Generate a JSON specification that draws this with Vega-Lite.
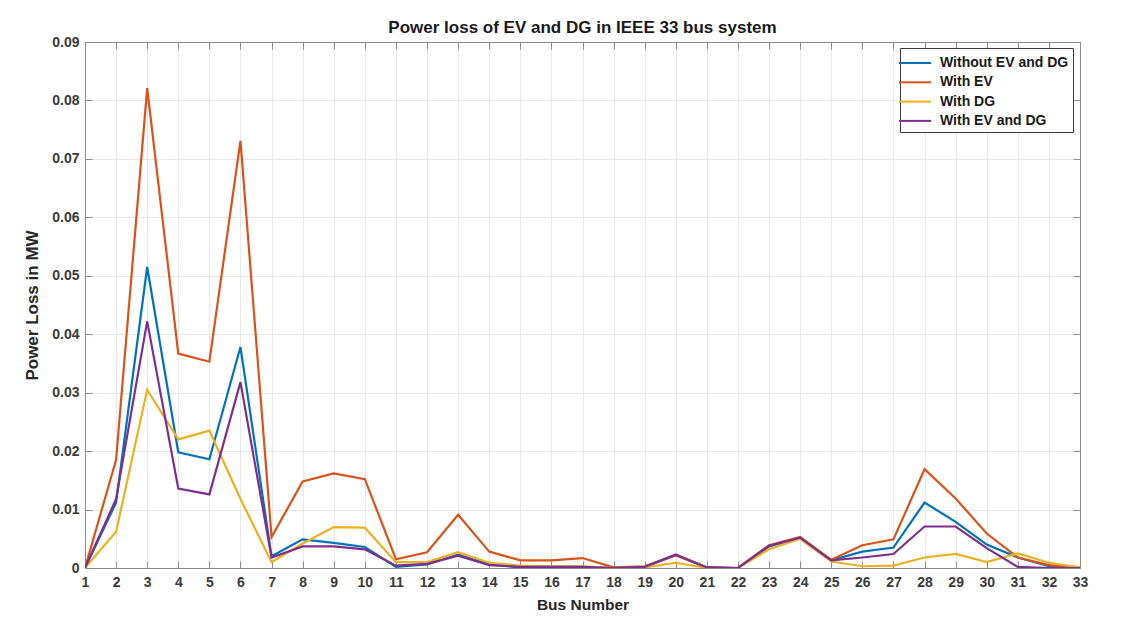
{
  "$schema": "https://vega.github.io/schema/vega-lite/v6.json",
  "autosize": {"type": "none"},
  "width": 995,
  "height": 526,
  "padding": {"left": 85, "top": 42, "right": 50, "bottom": 57},
  "background": "white",
  "title": {
    "text": "Power loss of EV and DG in IEEE 33 bus system",
    "font": "Liberation Sans",
    "fontSize": 17,
    "fontWeight": "bold",
    "color": "#1a1a1a",
    "anchor": "middle",
    "offset": -2
  },
  "config": {
    "view": {"stroke": "#8c8c8c", "strokeWidth": 1},
    "axis": {
      "labelFont": "Liberation Sans",
      "labelFontWeight": "bold",
      "labelFontSize": 14,
      "labelColor": "#3a3a3a",
      "titleFont": "Liberation Sans",
      "titleFontWeight": "bold",
      "titleColor": "#262626",
      "domainColor": "#8c8c8c",
      "tickColor": "#8c8c8c",
      "gridColor": "#e8e8e8",
      "gridWidth": 1
    }
  },
  "data": {
    "values": [
      {"bus": 1, "case": "Without EV and DG", "loss": 0},
      {"bus": 2, "case": "Without EV and DG", "loss": 0.0112},
      {"bus": 3, "case": "Without EV and DG", "loss": 0.0515},
      {"bus": 4, "case": "Without EV and DG", "loss": 0.0198},
      {"bus": 5, "case": "Without EV and DG", "loss": 0.0186},
      {"bus": 6, "case": "Without EV and DG", "loss": 0.0378},
      {"bus": 7, "case": "Without EV and DG", "loss": 0.002},
      {"bus": 8, "case": "Without EV and DG", "loss": 0.0049},
      {"bus": 9, "case": "Without EV and DG", "loss": 0.0043},
      {"bus": 10, "case": "Without EV and DG", "loss": 0.0036},
      {"bus": 11, "case": "Without EV and DG", "loss": 0.0002},
      {"bus": 12, "case": "Without EV and DG", "loss": 0.0006},
      {"bus": 13, "case": "Without EV and DG", "loss": 0.0023},
      {"bus": 14, "case": "Without EV and DG", "loss": 0.0006},
      {"bus": 15, "case": "Without EV and DG", "loss": 0.0001},
      {"bus": 16, "case": "Without EV and DG", "loss": 0.0002},
      {"bus": 17, "case": "Without EV and DG", "loss": 0.0002},
      {"bus": 18, "case": "Without EV and DG", "loss": 0},
      {"bus": 19, "case": "Without EV and DG", "loss": 0.0002},
      {"bus": 20, "case": "Without EV and DG", "loss": 0.0022},
      {"bus": 21, "case": "Without EV and DG", "loss": 0.0001},
      {"bus": 22, "case": "Without EV and DG", "loss": 0},
      {"bus": 23, "case": "Without EV and DG", "loss": 0.0037},
      {"bus": 24, "case": "Without EV and DG", "loss": 0.0052},
      {"bus": 25, "case": "Without EV and DG", "loss": 0.0013},
      {"bus": 26, "case": "Without EV and DG", "loss": 0.0028},
      {"bus": 27, "case": "Without EV and DG", "loss": 0.0035},
      {"bus": 28, "case": "Without EV and DG", "loss": 0.0112},
      {"bus": 29, "case": "Without EV and DG", "loss": 0.0079},
      {"bus": 30, "case": "Without EV and DG", "loss": 0.004},
      {"bus": 31, "case": "Without EV and DG", "loss": 0.0018},
      {"bus": 32, "case": "Without EV and DG", "loss": 0.0003},
      {"bus": 33, "case": "Without EV and DG", "loss": 0.0001},

      {"bus": 1, "case": "With EV", "loss": 0},
      {"bus": 2, "case": "With EV", "loss": 0.0185},
      {"bus": 3, "case": "With EV", "loss": 0.0821},
      {"bus": 4, "case": "With EV", "loss": 0.0367},
      {"bus": 5, "case": "With EV", "loss": 0.0353},
      {"bus": 6, "case": "With EV", "loss": 0.0731},
      {"bus": 7, "case": "With EV", "loss": 0.0053},
      {"bus": 8, "case": "With EV", "loss": 0.0148},
      {"bus": 9, "case": "With EV", "loss": 0.0162},
      {"bus": 10, "case": "With EV", "loss": 0.0152},
      {"bus": 11, "case": "With EV", "loss": 0.0015},
      {"bus": 12, "case": "With EV", "loss": 0.0027},
      {"bus": 13, "case": "With EV", "loss": 0.0091},
      {"bus": 14, "case": "With EV", "loss": 0.0028},
      {"bus": 15, "case": "With EV", "loss": 0.0013},
      {"bus": 16, "case": "With EV", "loss": 0.0013},
      {"bus": 17, "case": "With EV", "loss": 0.0017},
      {"bus": 18, "case": "With EV", "loss": 0.0001},
      {"bus": 19, "case": "With EV", "loss": 0.0003},
      {"bus": 20, "case": "With EV", "loss": 0.0022},
      {"bus": 21, "case": "With EV", "loss": 0.0001},
      {"bus": 22, "case": "With EV", "loss": 0},
      {"bus": 23, "case": "With EV", "loss": 0.0039},
      {"bus": 24, "case": "With EV", "loss": 0.0053},
      {"bus": 25, "case": "With EV", "loss": 0.0014},
      {"bus": 26, "case": "With EV", "loss": 0.0039},
      {"bus": 27, "case": "With EV", "loss": 0.0049},
      {"bus": 28, "case": "With EV", "loss": 0.0169},
      {"bus": 29, "case": "With EV", "loss": 0.0119},
      {"bus": 30, "case": "With EV", "loss": 0.0059},
      {"bus": 31, "case": "With EV", "loss": 0.0018},
      {"bus": 32, "case": "With EV", "loss": 0.0005},
      {"bus": 33, "case": "With EV", "loss": 0.0001},

      {"bus": 1, "case": "With DG", "loss": 0},
      {"bus": 2, "case": "With DG", "loss": 0.0062},
      {"bus": 3, "case": "With DG", "loss": 0.0305},
      {"bus": 4, "case": "With DG", "loss": 0.022},
      {"bus": 5, "case": "With DG", "loss": 0.0235},
      {"bus": 6, "case": "With DG", "loss": 0.0118},
      {"bus": 7, "case": "With DG", "loss": 0.001},
      {"bus": 8, "case": "With DG", "loss": 0.0042},
      {"bus": 9, "case": "With DG", "loss": 0.007},
      {"bus": 10, "case": "With DG", "loss": 0.0069},
      {"bus": 11, "case": "With DG", "loss": 0.001},
      {"bus": 12, "case": "With DG", "loss": 0.001},
      {"bus": 13, "case": "With DG", "loss": 0.0027},
      {"bus": 14, "case": "With DG", "loss": 0.0009},
      {"bus": 15, "case": "With DG", "loss": 0.0004},
      {"bus": 16, "case": "With DG", "loss": 0.0003},
      {"bus": 17, "case": "With DG", "loss": 0.0003},
      {"bus": 18, "case": "With DG", "loss": 0},
      {"bus": 19, "case": "With DG", "loss": 0.0001},
      {"bus": 20, "case": "With DG", "loss": 0.0009},
      {"bus": 21, "case": "With DG", "loss": 0},
      {"bus": 22, "case": "With DG", "loss": 0},
      {"bus": 23, "case": "With DG", "loss": 0.0032},
      {"bus": 24, "case": "With DG", "loss": 0.005},
      {"bus": 25, "case": "With DG", "loss": 0.0011},
      {"bus": 26, "case": "With DG", "loss": 0.0003},
      {"bus": 27, "case": "With DG", "loss": 0.0004},
      {"bus": 28, "case": "With DG", "loss": 0.0018},
      {"bus": 29, "case": "With DG", "loss": 0.0024},
      {"bus": 30, "case": "With DG", "loss": 0.001},
      {"bus": 31, "case": "With DG", "loss": 0.0025},
      {"bus": 32, "case": "With DG", "loss": 0.0009},
      {"bus": 33, "case": "With DG", "loss": 0.0001},

      {"bus": 1, "case": "With EV and DG", "loss": 0},
      {"bus": 2, "case": "With EV and DG", "loss": 0.0118},
      {"bus": 3, "case": "With EV and DG", "loss": 0.0422},
      {"bus": 4, "case": "With EV and DG", "loss": 0.0136},
      {"bus": 5, "case": "With EV and DG", "loss": 0.0126},
      {"bus": 6, "case": "With EV and DG", "loss": 0.0318},
      {"bus": 7, "case": "With EV and DG", "loss": 0.0018},
      {"bus": 8, "case": "With EV and DG", "loss": 0.0037},
      {"bus": 9, "case": "With EV and DG", "loss": 0.0037},
      {"bus": 10, "case": "With EV and DG", "loss": 0.0032},
      {"bus": 11, "case": "With EV and DG", "loss": 0.0004},
      {"bus": 12, "case": "With EV and DG", "loss": 0.0007},
      {"bus": 13, "case": "With EV and DG", "loss": 0.0021},
      {"bus": 14, "case": "With EV and DG", "loss": 0.0005},
      {"bus": 15, "case": "With EV and DG", "loss": 0.0002},
      {"bus": 16, "case": "With EV and DG", "loss": 0.0002},
      {"bus": 17, "case": "With EV and DG", "loss": 0.0002},
      {"bus": 18, "case": "With EV and DG", "loss": 0},
      {"bus": 19, "case": "With EV and DG", "loss": 0.0002},
      {"bus": 20, "case": "With EV and DG", "loss": 0.0023},
      {"bus": 21, "case": "With EV and DG", "loss": 0.0001},
      {"bus": 22, "case": "With EV and DG", "loss": 0},
      {"bus": 23, "case": "With EV and DG", "loss": 0.0038},
      {"bus": 24, "case": "With EV and DG", "loss": 0.0052},
      {"bus": 25, "case": "With EV and DG", "loss": 0.0013},
      {"bus": 26, "case": "With EV and DG", "loss": 0.0018},
      {"bus": 27, "case": "With EV and DG", "loss": 0.0024},
      {"bus": 28, "case": "With EV and DG", "loss": 0.0071},
      {"bus": 29, "case": "With EV and DG", "loss": 0.0071},
      {"bus": 30, "case": "With EV and DG", "loss": 0.0034},
      {"bus": 31, "case": "With EV and DG", "loss": 0.0002},
      {"bus": 32, "case": "With EV and DG", "loss": 0},
      {"bus": 33, "case": "With EV and DG", "loss": 0}
    ]
  },
  "layer": [
    {
      "mark": {"type": "line", "strokeWidth": 2.2, "clip": true},
      "encoding": {
        "x": {
          "field": "bus",
          "type": "quantitative",
          "scale": {"domain": [1, 33], "nice": false, "zero": false},
          "axis": {
            "title": "Bus Number",
            "titleFontSize": 15.5,
            "values": [1,2,3,4,5,6,7,8,9,10,11,12,13,14,15,16,17,18,19,20,21,22,23,24,25,26,27,28,29,30,31,32,33],
            "format": "d",
            "tickSize": -7,
            "labelPadding": 14,
            "titlePadding": 8,
            "grid": true,
            "labelOverlap": false,
            "labelFlush": false
          }
        },
        "y": {
          "field": "loss",
          "type": "quantitative",
          "scale": {"domain": [0, 0.09], "nice": false},
          "axis": {
            "title": "Power Loss in MW",
            "titleFontSize": 17,
            "values": [0, 0.01, 0.02, 0.03, 0.04, 0.05, 0.06, 0.07, 0.08, 0.09],
            "format": ".2~f",
            "tickSize": -7,
            "labelPadding": 13,
            "titlePadding": 10,
            "grid": true,
            "labelFlush": false
          }
        },
        "color": {
          "field": "case",
          "type": "nominal",
          "sort": null,
          "scale": {
            "domain": ["Without EV and DG", "With EV", "With DG", "With EV and DG"],
            "range": ["#0072BD", "#D95319", "#EDB120", "#7E2F8E"]
          },
          "legend": {
            "title": null,
            "orient": "none",
            "legendX": 815,
            "legendY": 6,
            "symbolType": "M-1.6,0H1.6",
            "symbolSize": 400,
            "symbolStrokeWidth": 2,
            "labelOffset": 14,
            "labelFont": "Liberation Sans",
            "labelFontWeight": "bold",
            "labelFontSize": 14,
            "labelColor": "#1a1a1a",
            "rowPadding": 1.3,
            "padding": 4,
            "strokeColor": "#3a3a3a",
            "fillColor": "white"
          }
        }
      }
    },
    {
      "mark": {"type": "line", "opacity": 0},
      "encoding": {
        "x": {
          "field": "bus",
          "type": "quantitative",
          "axis": {
            "orient": "top",
            "title": null,
            "values": [1,2,3,4,5,6,7,8,9,10,11,12,13,14,15,16,17,18,19,20,21,22,23,24,25,26,27,28,29,30,31,32,33],
            "labels": false,
            "tickSize": -7,
            "grid": false
          }
        },
        "y": {
          "field": "loss",
          "type": "quantitative",
          "axis": {
            "orient": "right",
            "title": null,
            "values": [0, 0.01, 0.02, 0.03, 0.04, 0.05, 0.06, 0.07, 0.08, 0.09],
            "labels": false,
            "tickSize": -7,
            "grid": false
          }
        },
        "detail": {"field": "case", "type": "nominal"}
      }
    }
  ],
  "resolve": {"axis": {"x": "independent", "y": "independent"}}
}
